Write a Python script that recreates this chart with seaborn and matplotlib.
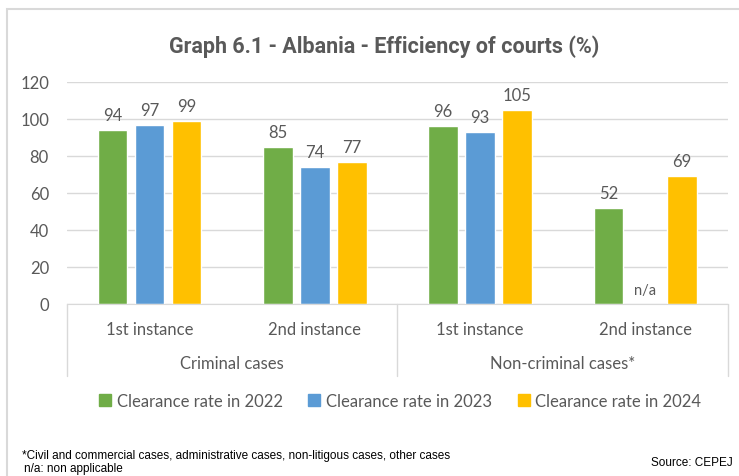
import numpy as np
import pandas as pd
import seaborn as sns
import matplotlib.pyplot as plt
from matplotlib.lines import Line2D

# values
groups = ["Criminal cases", "Criminal cases", "Non-criminal cases*", "Non-criminal cases*"]
instances = ["1st instance", "2nd instance", "1st instance", "2nd instance"]
rate_2022 = [94, 85, 96, 52]
rate_2023 = [97, 74, 93, np.nan]
rate_2024 = [99, 77, 105, 69]
years = ["Clearance rate in 2022", "Clearance rate in 2023", "Clearance rate in 2024"]
colors = ["#70AD47", "#5B9BD5", "#FFC000"]

# long table for seaborn
cats = [g + "|" + i for g, i in zip(groups, instances)]
rows = []
for yr, vals in zip(years, [rate_2022, rate_2023, rate_2024]):
    for c, v in zip(cats, vals):
        rows.append({"cat": c, "year": yr, "rate": v})
df = pd.DataFrame(rows)

sns.set_style("white")
plt.rcParams["font.family"] = ["Lato", "DejaVu Sans"]
grey = "#595959"
fs = 12

fig = plt.figure(figsize=(7.39, 4.77), dpi=100)
ax = fig.add_axes([0.0907, 0.3606, 0.8943, 0.4654])

sns.barplot(data=df, x="cat", y="rate", hue="year", hue_order=years, order=cats,
            palette=colors, width=0.67, gap=0.2, ax=ax, saturation=1, errorbar=None)
ax.legend_.remove()

ax.set_ylim(0, 120)
ax.set_xlim(-0.5, 3.5)
ax.set_yticks(range(0, 121, 20))
ax.yaxis.grid(True, color="#D9D9D9", linewidth=1)
ax.set_axisbelow(True)
for s in ["top", "right", "left"]:
    ax.spines[s].set_visible(False)
ax.spines["bottom"].set_color("#D9D9D9")
ax.tick_params(axis="y", length=0, labelsize=fs, colors=grey, pad=13)
ax.tick_params(axis="x", length=0, labelsize=fs, colors=grey, pad=12)
ax.set_xticks(range(4))
ax.set_xticklabels(instances)
ax.set_xlabel("")
ax.set_ylabel("")

# value labels
for cont in ax.containers:
    for bar in cont:
        h = bar.get_height()
        if np.isfinite(h) and h > 0:
            ax.annotate(f"{h:.0f}", (bar.get_x() + bar.get_width() / 2, h),
                        xytext=(0, 5), textcoords="offset points",
                        ha="center", va="bottom", fontsize=fs, color=grey)
# n/a for the missing bar
for i, v in enumerate(rate_2023):
    if np.isnan(v):
        ax.annotate("n/a", (i, 0), xytext=(0, 5), textcoords="offset points",
                    ha="center", va="bottom", fontsize=10.5, color=grey)

# group level of the category axis
trans = ax.get_xaxis_transform()
for x in [-0.5, 1.5, 3.5]:
    ax.plot([x, x], [0, -0.325], transform=trans, color="#D9D9D9", lw=1, clip_on=False)
ax.text(0.5, -0.265, "Criminal cases", transform=trans, ha="center", va="center",
        fontsize=fs, color=grey)
ax.text(2.5, -0.265, "Non-criminal cases*", transform=trans, ha="center", va="center",
        fontsize=fs, color=grey)

fig.text(384 / 739, 1 - 47 / 477, "Graph 6.1 - Albania - Efficiency of courts (%)",
         ha="center", va="center", fontsize=15.5, fontweight="bold", color=grey,
         family=["Roboto", "DejaVu Sans"])

handles = [Line2D([], [], marker="s", linestyle="", markersize=8, color=c) for c in colors]
fig.legend(handles, years, loc="center", bbox_to_anchor=(0.54, 1 - 402 / 477), ncol=3,
           frameon=False, fontsize=fs, labelcolor=grey, handletextpad=0.2,
           columnspacing=1.4, handlelength=1.0)

foot = dict(fontsize=8.5, color="black", va="center", family=["Liberation Sans"])
fig.text(22 / 739, 1 - 456 / 477,
         "*Civil and commercial cases, administrative cases, non-litigous cases, other cases", **foot)
fig.text(24 / 739, 1 - 469 / 477, "n/a: non applicable", **foot)
fig.text(733 / 739, 1 - 463 / 477, "Source: CEPEJ", ha="right", **{k: v for k, v in foot.items()})

fig.patches.append(plt.Rectangle((7 / 739, -0.1), 1.2, 1.1 - 10 / 477, transform=fig.transFigure,
                                 fill=False, edgecolor="#D9D9D9", lw=1.5))

fig.savefig("out.png", dpi=100)
